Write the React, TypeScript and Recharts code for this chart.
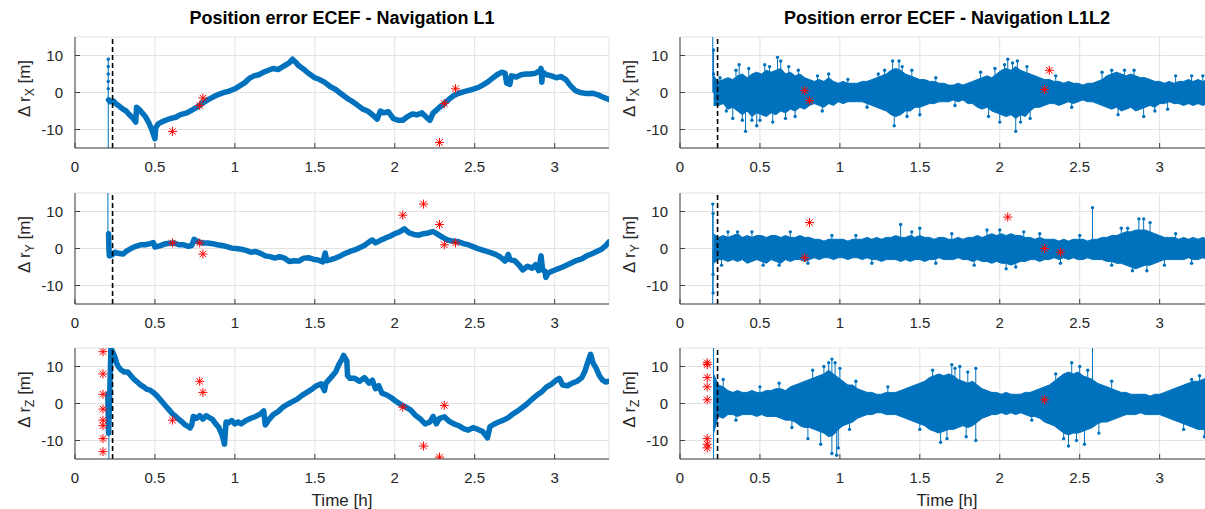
import React from 'react';
import {
  ComposedChart,
  Line,
  Area,
  Scatter,
  XAxis,
  YAxis,
  CartesianGrid,
  ReferenceLine,
} from 'recharts';

const BLUE = '#0072BD';
const RED = '#FF0000';
const AXIS = '#404040';
const TEXT = '#262626';
const GRID = '#e2e2e2';
const FONT = '"Liberation Sans", Arial, Helvetica, sans-serif';

const xTicks = [0, 0.5, 1, 1.5, 2, 2.5, 3];
const yTicks = [-10, 0, 10];
const timeMax = 3.34;
const convergedAt = 0.235; // dashed marker

// ---- L1 navigation (left column) ----
const l1XTime = [
  0.21, 0.22, 0.24, 0.26, 0.28, 0.3, 0.32, 0.34, 0.36, 0.38,
  0.385, 0.4, 0.42, 0.44, 0.46, 0.48, 0.5, 0.505, 0.52, 0.55,
  0.58, 0.6, 0.63, 0.66, 0.7, 0.73, 0.76, 0.78, 0.8, 0.83,
  0.86, 0.9, 0.93, 0.96, 1.0, 1.03, 1.06, 1.09, 1.12, 1.15,
  1.18, 1.21, 1.24, 1.27, 1.3, 1.32, 1.34, 1.36, 1.38, 1.4,
  1.43, 1.46, 1.5, 1.53, 1.56, 1.6, 1.63, 1.66, 1.7, 1.73,
  1.76, 1.8, 1.83, 1.86, 1.89, 1.91, 1.93, 1.96, 1.99, 2.02,
  2.05, 2.08, 2.11, 2.14, 2.17, 2.2, 2.22, 2.24, 2.26, 2.28,
  2.31, 2.34, 2.37, 2.4, 2.44, 2.48, 2.52, 2.55, 2.58, 2.61,
  2.64, 2.67, 2.69, 2.7, 2.72, 2.73, 2.76, 2.79, 2.82, 2.85,
  2.88, 2.91, 2.915, 2.92, 2.925, 2.95, 2.98, 3.01, 3.04, 3.07,
  3.1, 3.13, 3.16, 3.2, 3.24, 3.28, 3.31, 3.34,
];
const l1XErr = [
  -2, -2.5, -2.3, -3.2, -3.8, -4.5, -5, -6, -6.8, -8,
  -4, -4.5, -5.5, -6.5, -8, -10, -12.5, -9.5, -8.5, -7.8,
  -7.3, -7, -6.7, -6, -5.5, -4.8, -4, -3.5, -2.8, -2,
  -1.3, -0.5, 0, 0.3, 1, 1.8, 2.6, 3.8, 4.5, 4.8,
  5.5, 6, 6.5, 6.2, 7, 7.5, 8, 9, 8.2, 7.2,
  6.3, 5.2, 4, 3.5, 2.8, 1.5, 0.8, -0.2, -1.5, -2.3,
  -3.2, -4.5, -5, -6, -7.2, -5, -5.5, -5.2, -7, -7.5,
  -7.5, -6.5, -5.8, -6, -5.5, -6.8, -7.5, -5.5, -4.8, -4,
  -3, -1.8, -0.8, -0.2, 0.3, 0.8, 1.3, 2, 2.8, 3.8,
  4.8, 5.5, 5.2, 2.5, 2.2, 4.5, 4.2, 4.8, 5, 5,
  5.2, 6, 6.5, 2.8, 5.5, 4.8, 4.5, 4, 4.3, 3.5,
  1.8, 0.5, 0, -0.3, -0.2, -0.8, -1.4, -1.9,
];
const l1XStartTime = [0.208, 0.208, 0.208, 0.208, 0.208, 0.208, 0.208];
const l1XStartErr = [-40, -2, 1, 3, 5, 7, 9];
const l1XOutTime = [0.61, 0.78, 0.8, 2.28, 2.31, 2.38];
const l1XOutErr = [-10.5, -3.5, -1.5, -13.5, -3, 1];

const l1YTime = [
  0.21, 0.212, 0.215, 0.23, 0.25, 0.27, 0.3, 0.32, 0.35, 0.38,
  0.41, 0.44, 0.47, 0.49, 0.5, 0.53, 0.56, 0.59, 0.62, 0.65,
  0.68, 0.71, 0.73, 0.745, 0.77, 0.8, 0.83, 0.86, 0.89, 0.92,
  0.95, 0.98, 1.01, 1.04, 1.07, 1.1, 1.13, 1.16, 1.19, 1.22,
  1.25, 1.28, 1.31, 1.34, 1.37, 1.4, 1.43, 1.46, 1.49, 1.52,
  1.55, 1.565, 1.575, 1.6, 1.63, 1.66, 1.69, 1.72, 1.75, 1.78,
  1.81, 1.84, 1.86, 1.88, 1.91, 1.94, 1.97, 2.0, 2.03, 2.06,
  2.09, 2.12, 2.15, 2.18, 2.21, 2.24, 2.27, 2.3, 2.33, 2.36,
  2.4, 2.43, 2.46, 2.5, 2.53, 2.56, 2.6, 2.63, 2.66, 2.69,
  2.71, 2.72, 2.75, 2.78, 2.8, 2.83, 2.86, 2.88, 2.9, 2.915,
  2.925, 2.94, 2.945, 2.96, 2.99, 3.02, 3.05, 3.08, 3.11, 3.14,
  3.17, 3.2, 3.23, 3.26, 3.29, 3.32, 3.34,
];
const l1YErr = [
  4, 0, -2, -1.8, -1, -1.3, -1.5, -0.8, 0, 0.6,
  1, 1, 1.3, 1.6, 0.4, 0.7, 1.2, 1.4, 1.5, 1,
  1, 0.6, 0.8, 2.5, 1.8, 1.5, 1.5, 1.3, 1, 0.8,
  0.5, 0.1, 0, -0.2, -0.5, -1, -0.8, -1.3, -2, -2.2,
  -2.6, -2.2, -2.6, -3.5, -3.3, -3.4, -2.6, -2.5, -2.9, -3.1,
  -3.6, -1.2, -3.3, -3, -2.6, -2, -1.3, -0.8, -0.4, 0.2,
  0.8, 1.8, 2.3, 1.5, 2.2, 2.8, 3.3, 4, 4.5, 5.3,
  4.2, 3.8, 3.6, 4, 4.2, 4.6, 3.8, 3, 2.3, 2,
  1.8, 1.3, 1, 0.3, -0.2, -0.6, -1.1, -1.6, -2.3, -3.4,
  -1.6, -3, -3.3, -4.6, -5.8, -4.8, -5.3, -4.4, -6, -2,
  -5.8, -6.2, -7.8, -6.6, -6, -5.5, -5, -4.4, -3.8, -3.2,
  -2.8, -2, -1.5, -0.9, -0.3, 0.8, 1.8,
];
const l1YStartTime = [0.206, 0.206];
const l1YStartErr = [40, 3];
const l1YOutTime = [0.61, 0.78, 0.8, 2.05, 2.18, 2.28, 2.31, 2.38];
const l1YOutErr = [1.5, 1.5, -1.5, 9, 12, 6.5, 1, 1.5];

const l1ZTime = [
  0.205, 0.208, 0.21, 0.225, 0.23, 0.24, 0.25, 0.26, 0.27, 0.29,
  0.31, 0.33, 0.35, 0.37, 0.39, 0.41, 0.43, 0.45, 0.47, 0.49,
  0.51, 0.53, 0.55, 0.57, 0.59, 0.61, 0.63, 0.65, 0.67, 0.69,
  0.71, 0.72, 0.73, 0.74, 0.76, 0.78, 0.8, 0.82, 0.84, 0.86,
  0.88, 0.9, 0.92, 0.935, 0.945, 0.96, 0.98, 1.0, 1.02, 1.04,
  1.07, 1.1, 1.13, 1.16, 1.18, 1.19, 1.21, 1.24, 1.27, 1.3,
  1.33, 1.36, 1.39, 1.42, 1.45, 1.48, 1.51, 1.54, 1.56, 1.57,
  1.6, 1.63, 1.65, 1.67, 1.68, 1.7, 1.705, 1.72, 1.75, 1.78,
  1.81, 1.84, 1.86, 1.88, 1.9, 1.92, 1.95, 1.98, 2.01, 2.04,
  2.07, 2.1, 2.13, 2.16, 2.19, 2.22, 2.24, 2.26, 2.28, 2.31,
  2.34, 2.37, 2.4, 2.43, 2.46, 2.49, 2.52, 2.55, 2.58, 2.595,
  2.62, 2.65, 2.68, 2.71, 2.74, 2.77, 2.8, 2.83, 2.86, 2.89,
  2.92, 2.95, 2.98, 3.01, 3.03, 3.05, 3.08, 3.11, 3.14, 3.17,
  3.19, 3.21, 3.225, 3.24, 3.26, 3.28, 3.3, 3.32, 3.34,
];
const l1ZErr = [
  2.5, -3, -8, 15, 14.5, 13.5, 12.5, 11, 10, 9,
  8.5, 8.5, 7.5, 6.5, 5.8, 5, 4.5, 3.8, 3.6, 3,
  2.2, 1.2, 0.2, -0.8, -1.8, -2.8, -3.5, -4.3, -5, -5.8,
  -6.3, -6.6, -5.8, -3.5, -4, -3.3, -4.2, -3.3, -3.8, -4.3,
  -5.5, -6.5, -8.5, -11, -5, -5.2, -4.6, -5.5, -5, -5.5,
  -4.6, -4, -3.5, -2.8, -2, -5.8, -4.5, -3, -2.2, -1,
  -0.2, 0.5, 1.2, 2.2, 3, 3.8, 4.8, 5.3, 3.5, 5.5,
  7, 8.5, 10.5, 12, 13, 11.5, 7.5, 6.8, 6.8, 6,
  7, 5.5, 6.3, 4, 4.8, 2.8, 2.3, 1.5, 0.5, -0.3,
  -1, -1.8, -3.2, -4.2, -5.5, -5, -3.5, -5.5, -4, -3.6,
  -4.8, -5.5, -6, -6.8, -7.2, -6.5, -7, -7.6, -9.3, -6.3,
  -5.6, -5, -4.5, -3.8, -2.8, -2, -1, 0, 1.2, 2.3,
  3.2, 4.5, 5.2, 6.3, 6.8, 5, 4.8, 5.5, 6, 7,
  8.8, 11.5, 13.3, 11, 9.5, 7.5, 6.3, 5.8, 6,
];
const l1ZStartTime = [0.212, 0.212];
const l1ZStartErr = [-40, 40];
const l1ZOutTime = [0.175, 0.175, 0.175, 0.175, 0.175, 0.175, 0.175, 0.175, 0.61, 0.78, 0.8, 2.05, 2.18, 2.28, 2.31];
const l1ZOutErr = [14, 8, 2.5, -1.5, -4.5, -6, -9.5, -13, -4.5, 6, 3, -1, -11.5, -14.5, -0.5];

// ---- L1L2 navigation (right column): dense noise envelope ----
const bandTime = [
  0.21, 0.24, 0.27, 0.3, 0.33, 0.36, 0.39, 0.42, 0.45, 0.48,
  0.51, 0.54, 0.57, 0.6, 0.63, 0.66, 0.69, 0.72, 0.75, 0.78,
  0.81, 0.84, 0.87, 0.9, 0.93, 0.96, 0.99, 1.02, 1.05, 1.08,
  1.11, 1.14, 1.17, 1.2, 1.23, 1.26, 1.29, 1.32, 1.35, 1.38,
  1.41, 1.44, 1.47, 1.5, 1.53, 1.56, 1.59, 1.62, 1.65, 1.68,
  1.71, 1.74, 1.77, 1.8, 1.83, 1.86, 1.89, 1.92, 1.95, 1.98,
  2.01, 2.04, 2.07, 2.1, 2.13, 2.16, 2.19, 2.22, 2.25, 2.28,
  2.31, 2.34, 2.37, 2.4, 2.43, 2.46, 2.49, 2.52, 2.55, 2.58,
  2.61, 2.64, 2.67, 2.7, 2.73, 2.76, 2.79, 2.82, 2.85, 2.88,
  2.91, 2.94, 2.97, 3.0, 3.03, 3.06, 3.09, 3.12, 3.15, 3.18,
  3.21, 3.24, 3.27, 3.3, 3.33,
];

const l1l2XHigh = [
  4.5, 3, 3.5, 4, 3.5, 4.5, 5, 4, 5, 5.5,
  5, 6, 5.5, 6, 6.5, 5, 5.5, 4.5, 5, 4,
  3.5, 3, 3.5, 3, 4, 3, 2.5, 3, 2.5, 2.5,
  2.5, 3, 3, 3.5, 4, 4.5, 5, 6, 6.5, 6,
  5, 4.5, 4, 3.5, 3.5, 3, 3, 2.5, 2.5, 2,
  2, 2.5, 2, 2.5, 3, 3.5, 4, 4.5, 4, 5,
  6, 6.5, 6, 7, 6, 5.5, 5, 4.5, 4, 3.5,
  3.5, 3, 3, 2.5, 3, 2.5, 2.5, 2, 2.5, 2.5,
  3, 3.5, 4.5, 5, 5.5, 5, 4.5, 5, 4.5, 4,
  4, 3.5, 3, 3, 2.5, 3, 2.5, 3, 3, 3.5,
  3, 3.5, 3, 3.5, 3,
];
const l1l2XLow = [
  -3.5, -3.5, -3, -4.5, -4, -5, -6, -5, -6.5, -5.5,
  -6, -6.5, -5.5, -6, -5, -5.5, -4.5, -5, -4, -4.5,
  -3.5, -3, -3.5, -4, -3, -3.5, -2.5, -3, -2.5, -2.5,
  -2.5, -2.5, -3, -3.5, -4, -4.5, -5, -6, -6.5, -6,
  -5, -5, -4, -4, -3.5, -3, -3, -2.5, -2.5, -2.5,
  -2, -2.5, -2, -3, -3, -4, -4.5, -4, -5, -5.5,
  -6, -6.5, -6, -7, -6, -6.5, -5, -4, -4, -3.5,
  -3, -3, -3.5, -3, -2.5, -3, -2.5, -2, -2.5, -2.5,
  -3, -3.5, -4, -4.5, -4, -5, -4.5, -4, -5, -4.5,
  -4, -3.5, -4, -3, -3, -2.5, -3, -3, -3.5, -3,
  -3.5, -3, -3.5, -3, -3,
];
// [time, from, to]
const l1l2XSpikes: [number, number, number][] = [
  [0.205, 0, 40], [0.21, 0, 11.5], [0.21, 0, 5], [0.33, 0, -7], [0.37, 0, 7.5], [0.41, 0, -10.5],
  [0.45, 0, -7.5], [0.48, 0, -9], [0.53, 0, 7.5], [0.58, 0, -8], [0.61, 0, 9.5], [0.63, 0, 8.5],
  [0.68, 0, 7], [0.72, 0, -6.5], [0.93, 0, 5], [1.28, 0, 6], [1.33, 0, 8.5], [1.34, 0, -9],
  [1.37, 0, 8.5], [1.39, 0, 7], [1.5, 0, -6], [1.97, 0, 6.5], [2.0, 0, -8], [2.05, 0, 9],
  [2.08, 0, 8], [2.1, 0, -10.5], [2.11, 0, 8.5], [2.13, 0, -8], [2.17, 0, 7], [2.7, 0, 6],
  [2.78, 0, 6], [2.9, 0, -6.5], [2.97, 0, -5], [3.2, 0, 4.5], [3.3, 0, -5],
  [0.25, 0, 4], [0.29, 0, -5], [0.35, 0, 6], [0.39, 0, -7.5], [0.43, 0, 6.5], [0.5, 0, -7.5],
  [0.56, 0, 7], [0.66, 0, -7], [0.74, 0, 6], [0.86, 0, 4.5], [0.89, 0, -5], [1.05, 0, 3.5],
  [1.17, 0, -4], [1.24, 0, 5], [1.42, 0, -6.5], [1.45, 0, 6], [1.6, 0, 4], [1.72, 0, -3.5],
  [1.88, 0, 5.5], [1.93, 0, -6.5], [2.03, 0, 7.5], [2.19, 0, -7], [2.35, 0, 4.5], [2.45, 0, -4],
  [2.64, 0, 5.5], [2.74, 0, -6], [2.84, 0, 6], [3.05, 0, -4.5], [3.1, 0, 4.5], [3.27, 0, 4.5],
];
const l1l2XOutTime = [0.78, 0.81, 2.28, 2.31];
const l1l2XOutErr = [0.5, -2.2, 0.8, 6];

const l1l2YHigh = [
  4, 3, 3.5, 3, 3.5, 4, 3, 3.5, 3, 3.5,
  3.5, 3, 3.5, 3.5, 3, 3.5, 3, 3, 3.5, 3,
  3, 2.5, 2.5, 2, 2.5, 2.5, 2.5, 2.5, 2, 2.5,
  2.5, 2.5, 3, 2.5, 3, 2.5, 3, 3, 3.5, 3,
  3, 3.5, 3, 3.5, 3, 3, 2.5, 3, 3, 2.5,
  2.5, 3, 2.5, 3, 3, 3.5, 3, 3.5, 4, 3.5,
  4, 3.5, 4, 3.5, 3.5, 3, 3, 2.5, 3, 2.5,
  2.5, 2.5, 2, 2.5, 2, 2.5, 2.5, 2.5, 2, 2.5,
  2.5, 3, 3, 3.5, 3.5, 4, 4.5, 4.5, 5, 5,
  5, 4.5, 4, 3.5, 3, 3, 3, 2.5, 3, 2.5,
  3, 2.5, 3, 2.5, 3,
];
const l1l2YLow = [
  -4, -3, -3, -3.5, -3, -3.5, -3, -4, -3.5, -3,
  -3.5, -4, -3, -3.5, -4, -3, -3.5, -3, -3, -3.5,
  -3, -2.5, -3, -2.5, -2.5, -3, -2.5, -2.5, -3, -2.5,
  -2.5, -3, -2.5, -3, -3, -3.5, -3, -3, -3, -3.5,
  -3, -3.5, -3, -3, -3.5, -3, -3, -2.5, -3, -3,
  -3, -2.5, -3, -3, -3.5, -3, -3.5, -3.5, -4, -3.5,
  -4, -4, -4.5, -4, -3.5, -3.5, -3, -3, -3.5, -3,
  -3, -2.5, -3, -2.5, -3, -2.5, -3, -3, -2.5, -3,
  -3, -3, -3.5, -3.5, -4, -4, -4.5, -5, -5.5, -5,
  -4.5, -4.5, -4, -3.5, -3, -3, -3, -3, -3, -2.5,
  -3, -3, -2.5, -3, -3,
];
const l1l2YSpikes: [number, number, number][] = [
  [0.205, -40, 12], [0.207, 0, 9.5], [0.207, 0, -7], [0.207, 0, -12], [0.3, 0, 4.5], [0.45, 0, 4.5],
  [0.62, 0, -4.5], [1.1, 0, 3.5], [1.38, 0, 6.5], [1.5, 0, 5.5], [1.92, 0, 5], [2.0, 0, 5],
  [2.1, 0, -5], [2.25, 0, 4], [2.58, 0, 11], [2.8, 0, 5.5], [2.83, 0, -6], [2.87, 0, 8],
  [2.9, 0, 8], [2.94, 0, 7], [3.03, 0, -4.5],
  [0.26, 0, -4.5], [0.36, 0, 4.5], [0.52, 0, -4.5], [0.69, 0, 4.5], [0.8, 0, -4], [0.95, 0, 3.5],
  [1.2, 0, -4], [1.45, 0, 4.5], [1.6, 0, -4], [1.7, 0, 4], [1.84, 0, -4.5], [2.04, 0, -5.5],
  [2.15, 0, 4.5], [2.38, 0, -4], [2.5, 0, 3.5], [2.7, 0, -4.5], [2.76, 0, 5.5], [2.92, 0, -6],
  [3.1, 0, 4], [3.2, 0, -4],
];
const l1l2YOutTime = [0.78, 0.81, 2.05, 2.28, 2.38];
const l1l2YOutErr = [-2.5, 7, 8.5, 0, -1];

const l1l2ZHigh = [
  8, 5, 4.5, 3.5, 3, 3.5, 3, 3, 3.5, 3,
  3, 3.5, 3.5, 4, 4, 3.5, 4.5, 5, 5.5, 6,
  6.5, 7, 7.5, 8, 9, 8, 7, 6, 5, 5,
  4, 3.5, 3, 3, 2.5, 2.5, 3, 3, 3, 3.5,
  4, 4.5, 5, 5.5, 6, 7, 7.5, 8, 7.5, 8,
  7.5, 6.5, 6, 5.5, 6, 5, 4, 3.5, 3, 3,
  2.5, 3, 2.5, 2.5, 2.5, 3, 3, 3.5, 4, 4.5,
  5, 6, 7, 8, 8.5, 8, 8.5, 7.5, 7, 6.5,
  5.5, 5, 4.5, 4, 3.5, 3, 3, 2.5, 2.5, 2.5,
  2.5, 2, 2.5, 2.5, 3, 3.5, 4, 4.5, 5, 5.5,
  6, 6, 6.5, 7, 7,
];
const l1l2ZLow = [
  -8, -3.5, -4, -3, -3, -3.5, -3, -3, -3, -3.5,
  -3, -3.5, -3.5, -3.5, -4, -4.5, -4.5, -5, -6, -6.5,
  -6.5, -7, -7.5, -8, -9, -8.5, -7, -6, -5.5, -5,
  -4, -3.5, -3, -3, -2.5, -2.5, -3, -3, -3, -3.5,
  -4, -4.5, -5, -5.5, -6, -7, -7.5, -8, -7.5, -7,
  -7, -6.5, -6, -6.5, -6, -5, -4, -3.5, -3, -3,
  -2.5, -3, -2.5, -3, -2.5, -3, -3.5, -3.5, -4, -5,
  -5.5, -6, -7, -8, -8.5, -8, -8, -7.5, -7, -6.5,
  -5.5, -5, -5, -4.5, -4, -3.5, -3, -3, -3, -2.5,
  -3, -3, -3, -3, -3.5, -4, -4.5, -5, -5.5, -6,
  -6.5, -7, -7, -7.5, -8,
];
const l1l2ZSpikes: [number, number, number][] = [
  [0.21, -40, 40], [0.27, 0, 6.5], [0.5, 0, 4.5], [0.8, 0, -9.5], [0.83, 0, 9], [0.93, 0, 11],
  [0.95, 0, 12], [0.95, 0, -13.5], [0.97, 0, 11], [0.98, 0, -14], [0.99, 0, -12], [1.0, 0, 9.5],
  [1.3, 0, 4.5], [1.63, 0, -10.5], [1.7, 0, 10.5], [1.75, 0, 10], [1.79, 0, -9], [1.85, 0, 9.5],
  [1.85, 0, -10], [2.43, 0, -11.5], [2.45, 0, 11], [2.48, 0, -10], [2.5, 0, 10], [2.53, 0, -11],
  [2.58, 0, 40], [3.25, 0, 7.5], [3.28, 0, -9], [3.3, 0, 8], [3.32, 0, -11],
  [0.35, 0, -4.5], [0.62, 0, 5.5], [0.7, 0, -6.5], [0.88, 0, -11], [0.9, 0, 10], [1.06, 0, -7],
  [1.1, 0, 6], [1.5, 0, -7], [1.58, 0, 9], [1.67, 0, -9.5], [1.72, 0, 9.5], [1.8, 0, 8.5],
  [2.2, 0, -4.5], [2.35, 0, 8], [2.4, 0, -9.5], [2.55, 0, 9], [2.62, 0, -8], [2.7, 0, 6],
  [3.15, 0, -7], [3.2, 0, 6.5],
];
const l1l2ZOutTime = [0.17, 0.17, 0.17, 0.17, 0.17, 0.17, 0.17, 0.17, 2.28];
const l1l2ZOutErr = [11, 10.5, 7, 4.5, 1, -9.5, -11, -12, 1];

const zip = (t: number[], v: number[]) => t.map((x, i) => ({ t: x, v: v[i] }));

const Asterisk = (props: any) => {
  const { cx, cy } = props;
  const r = 4.5;
  const d = r * 0.72;
  return (
    <g stroke={RED} strokeWidth={1}>
      <line x1={cx - r} y1={cy} x2={cx + r} y2={cy} />
      <line x1={cx} y1={cy - r} x2={cx} y2={cy + r} />
      <line x1={cx - d} y1={cy - d} x2={cx + d} y2={cy + d} />
      <line x1={cx - d} y1={cy + d} x2={cx + d} y2={cy - d} />
    </g>
  );
};

type PanelProps = {
  left: number;
  top: number;
  trace?: [number[], number[]];
  start?: [number[], number[]];
  band?: [number[], number[]];
  spikes?: [number, number, number][];
  marks: [number[], number[]];
};

const PLOT_H = 111;

const Panel = ({ left, top, trace, start, band, spikes, marks }: PanelProps) => {
  const data = band
    ? bandTime.map((t, i) => ({ t, range: [band[0][i], band[1][i]] }))
    : undefined;
  return (
    <div style={{ position: 'absolute', left, top: top - 6 }}>
      <ComposedChart
        width={620}
        height={PLOT_H + 40}
        data={data}
        margin={{ top: 6, right: 11, bottom: 0, left: 0 }}
      >
        <CartesianGrid stroke={GRID} />
        <XAxis
          dataKey="t"
          type="number"
          domain={[0, timeMax]}
          ticks={xTicks}
          interval={0}
          allowDataOverflow
          height={34}
          stroke={AXIS}
          tickSize={-5}
          tickMargin={18}
          tick={{ fill: TEXT, fontSize: 15 }}
        />
        <XAxis
          xAxisId="top"
          orientation="top"
          type="number"
          domain={[0, timeMax]}
          ticks={xTicks}
          interval={0}
          allowDataOverflow
          height={0}
          stroke={AXIS}
          tickSize={-5}
          tick={false}
        />
        <YAxis
          type="number"
          domain={[-15, 15]}
          ticks={yTicks}
          interval={0}
          allowDataOverflow
          width={75}
          stroke={AXIS}
          tickSize={-5}
          tickMargin={17}
          tick={{ fill: TEXT, fontSize: 15 }}
        />
        <YAxis
          yAxisId="right"
          orientation="right"
          type="number"
          domain={[-15, 15]}
          ticks={yTicks}
          interval={0}
          allowDataOverflow
          width={0}
          stroke={AXIS}
          tickSize={-5}
          tick={false}
        />
        {band && (
          <Area
            dataKey="range"
            type="linear"
            stroke={BLUE}
            strokeWidth={1}
            fill={BLUE}
            fillOpacity={1}
            dot={false}
            activeDot={false}
            isAnimationActive={false}
          />
        )}
        {spikes &&
          spikes.map(([t, from, to], i) => (
            <Line
              key={'s' + i}
              data={[{ t, v: from }, { t, v: to }]}
              dataKey="v"
              stroke={BLUE}
              strokeWidth={1}
              isAnimationActive={false}
              dot={(p: any) => (
                <circle key={'d' + i + '-' + p.index} cx={p.cx} cy={p.cy} r={p.index === 1 ? 1.7 : 0} fill={BLUE} />
              )}
            />
          ))}
        {start && (
          <Line
            data={zip(start[0], start[1])}
            dataKey="v"
            stroke={BLUE}
            strokeWidth={1}
            dot={{ r: 1.3, fill: BLUE, stroke: BLUE }}
            isAnimationActive={false}
          />
        )}
        {trace && (
          <Line
            data={zip(trace[0], trace[1])}
            dataKey="v"
            stroke={BLUE}
            strokeWidth={5.5}
            strokeLinejoin="round"
            strokeLinecap="round"
            dot={false}
            isAnimationActive={false}
          />
        )}
        <ReferenceLine x={convergedAt} stroke="#000" strokeWidth={1.6} strokeDasharray="5 3" />
        <Scatter
          data={zip(marks[0], marks[1])}
          dataKey="v"
          shape={(p: any) => <Asterisk cx={p.cx} cy={p.cy} />}
          isAnimationActive={false}
        />
      </ComposedChart>
    </div>
  );
};

const rowTop = [37, 193, 348];
const colLeft = [0, 605];
const axisNames = ['X', 'Y', 'Z'];

const App = () => {
  return (
    <div
      style={{
        position: 'fixed',
        left: 0,
        top: 0,
        width: 1205,
        height: 509,
        overflow: 'hidden',
        background: '#fff',
        fontFamily: FONT,
      }}
    >
      <Panel left={colLeft[0]} top={rowTop[0]} trace={[l1XTime, l1XErr]} start={[l1XStartTime, l1XStartErr]} marks={[l1XOutTime, l1XOutErr]} />
      <Panel left={colLeft[0]} top={rowTop[1]} trace={[l1YTime, l1YErr]} start={[l1YStartTime, l1YStartErr]} marks={[l1YOutTime, l1YOutErr]} />
      <Panel left={colLeft[0]} top={rowTop[2]} trace={[l1ZTime, l1ZErr]} start={[l1ZStartTime, l1ZStartErr]} marks={[l1ZOutTime, l1ZOutErr]} />
      <Panel left={colLeft[1]} top={rowTop[0]} band={[l1l2XLow, l1l2XHigh]} spikes={l1l2XSpikes} marks={[l1l2XOutTime, l1l2XOutErr]} />
      <Panel left={colLeft[1]} top={rowTop[1]} band={[l1l2YLow, l1l2YHigh]} spikes={l1l2YSpikes} marks={[l1l2YOutTime, l1l2YOutErr]} />
      <Panel left={colLeft[1]} top={rowTop[2]} band={[l1l2ZLow, l1l2ZHigh]} spikes={l1l2ZSpikes} marks={[l1l2ZOutTime, l1l2ZOutErr]} />

      <svg width={1205} height={509} style={{ position: 'absolute', left: 0, top: 0, pointerEvents: 'none' }}>
        <text x={342} y={23.5} textAnchor="middle" fontSize={18} fontWeight="bold" fill="#000">
          Position error ECEF - Navigation L1
        </text>
        <text x={947} y={23.5} textAnchor="middle" fontSize={18} fontWeight="bold" fill="#000">
          Position error ECEF - Navigation L1L2
        </text>
        <text x={342} y={506} textAnchor="middle" fontSize={17} fill={TEXT}>
          Time [h]
        </text>
        <text x={947} y={506} textAnchor="middle" fontSize={17} fill={TEXT}>
          Time [h]
        </text>
        {colLeft.map((cl) =>
          rowTop.map((rt, r) => {
            const lx = cl + 30;
            const ly = rt + PLOT_H / 2 - 4;
            return (
              <text
                key={cl + '-' + r}
                x={lx}
                y={ly}
                transform={`rotate(-90 ${lx} ${ly})`}
                textAnchor="middle"
                fontSize={17}
                fill={TEXT}
              >
                Δ r<tspan dy={4} fontSize={12}>{axisNames[r]}</tspan>
                <tspan dy={-4}> [m]</tspan>
              </text>
            );
          })
        )}
      </svg>
    </div>
  );
};

export default App;
